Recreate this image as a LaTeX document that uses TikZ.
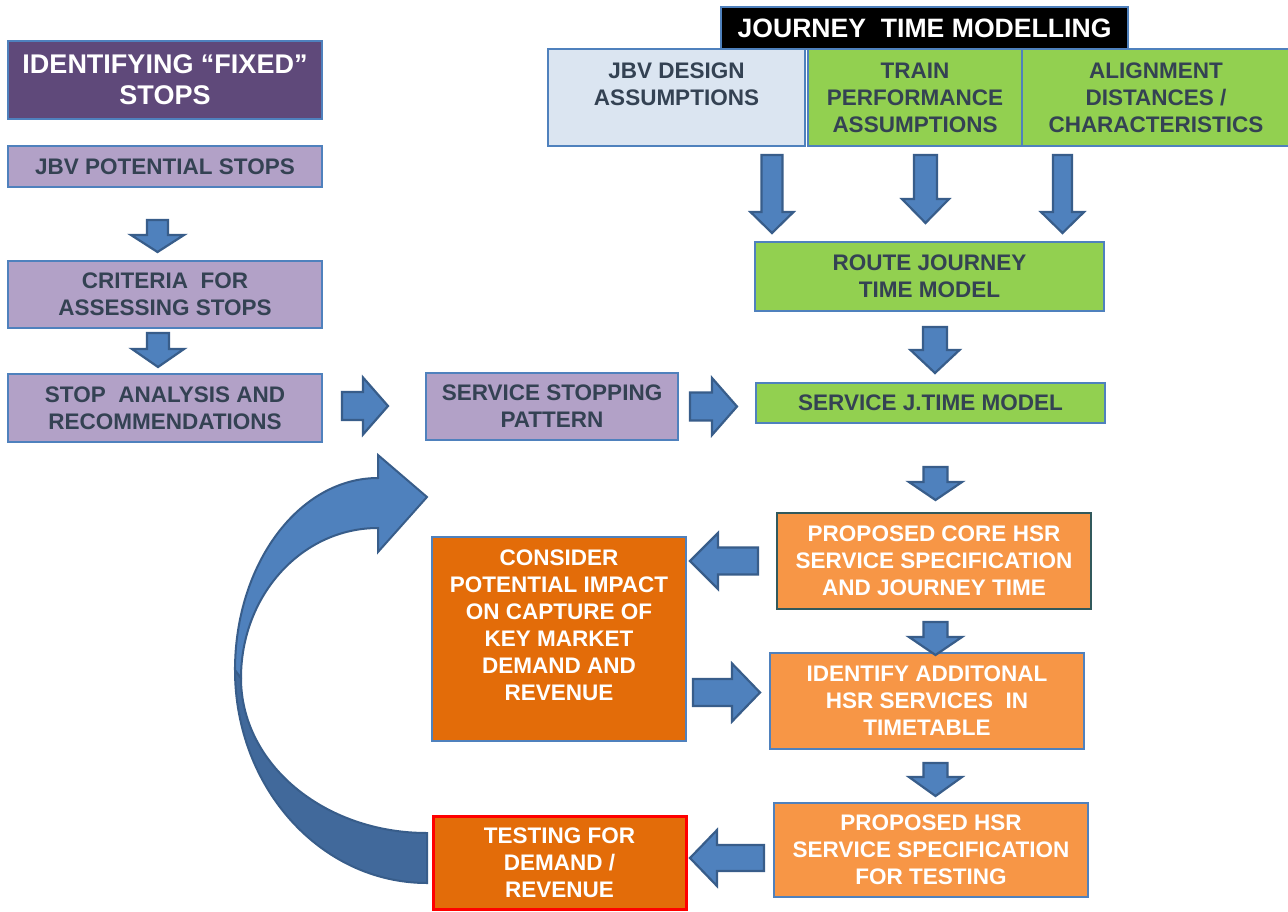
\documentclass[tikz,border=0pt]{standalone}
\usepackage{fontspec}
\setmainfont{Liberation Sans}
\definecolor{edgeblue}{HTML}{4F81BD}
\definecolor{arrfill}{HTML}{4F81BD}
\definecolor{arrline}{HTML}{385D8A}
\definecolor{darkband}{HTML}{41699B}
\definecolor{dpurple}{HTML}{5F497A}
\definecolor{lpurple}{HTML}{B2A1C7}
\definecolor{lgreen}{HTML}{92D050}
\definecolor{lblue}{HTML}{DBE5F1}
\definecolor{lorange}{HTML}{F79646}
\definecolor{dorange}{HTML}{E36C09}
\definecolor{txtdark}{HTML}{344253}
\definecolor{tealedge}{HTML}{31595C}
\tikzset{
  bx/.style={draw=edgeblue, line width=1.3pt, inner sep=0pt, align=center,
    font=\fontsize{22.5}{27}\selectfont\bfseries, text=txtdark},
  lightbx/.style={bx, text=white},
  blk/.style={fill=arrfill, draw=arrline, line width=2.2pt, line join=miter},
}
\newcommand{\varrow}[6]{%
  \draw[blk] ({#1-#5},#2) -- ({#1+#5},#2) -- ({#1+#5},#3) -- ({#1+#6},#3) -- (#1,#4) -- ({#1-#6},#3) -- ({#1-#5},#3) -- cycle;}
\newcommand{\harrow}[6]{%
  \draw[blk] (#2,{#1-#5}) -- (#3,{#1-#5}) -- (#3,{#1-#6}) -- (#4,#1) -- (#3,{#1+#6}) -- (#3,{#1+#5}) -- (#2,{#1+#5}) -- cycle;}
\begin{document}
\begin{tikzpicture}[x=1pt,y=-1pt]
\useasboundingbox (0,0) rectangle (1288,911);
\fill[white] (0,0) rectangle (1288,911);

% left column
\node[lightbx, fill=dpurple, minimum width=314pt, minimum height=78pt,
  font=\fontsize{27}{31}\selectfont\bfseries] (title) at (165,80) {IDENTIFYING “FIXED”\\STOPS};
\node[bx, fill=lpurple, minimum width=314pt, minimum height=41pt] (jbvpot) at (165,166.5) {JBV POTENTIAL STOPS};
\node[bx, fill=lpurple, minimum width=314pt, minimum height=67pt] (crit) at (165,294.5) {CRITERIA\ \ FOR\\ASSESSING STOPS};
\node[bx, fill=lpurple, minimum width=314pt, minimum height=68pt] (stop) at (165,408) {STOP\ \ ANALYSIS AND\\RECOMMENDATIONS};
\node[bx, fill=lpurple, minimum width=252pt, minimum height=67pt] (ssp) at (552,406.5) {SERVICE STOPPING\\PATTERN};

% top right
\node[bx, fill=lblue, minimum width=257pt, minimum height=97pt] (jbvd) at (676.5,97.5) {JBV DESIGN\\ASSUMPTIONS\\\mbox{}};
\node[bx, fill=lgreen, minimum width=214pt, minimum height=97pt] (train) at (915,97.5) {TRAIN\\PERFORMANCE\\ASSUMPTIONS};
\node[bx, fill=lgreen, minimum width=268pt, minimum height=97pt] (align) at (1156,97.5) {ALIGNMENT\\DISTANCES /\\CHARACTERISTICS};
\node[lightbx, fill=black, minimum width=407pt, minimum height=42pt,
  font=\fontsize{26.6}{30}\selectfont\bfseries] (jtm) at (924.5,28) {JOURNEY\ \ TIME MODELLING};
\node[bx, fill=lgreen, minimum width=349pt, minimum height=69pt] (rjt) at (929.5,276.5) {ROUTE JOURNEY\\TIME MODEL};
\node[bx, fill=lgreen, minimum width=349pt, minimum height=40pt] (sjt) at (930.5,403) {SERVICE J.TIME MODEL};

% orange boxes
\node[lightbx, fill=lorange, draw=tealedge, minimum width=314pt, minimum height=96pt] (pcore) at (934,561) {PROPOSED CORE HSR\\SERVICE SPECIFICATION\\AND JOURNEY TIME};
\node[lightbx, fill=dorange, minimum width=254pt, minimum height=204pt] (consider) at (559,639) {CONSIDER\\POTENTIAL IMPACT\\ON CAPTURE OF\\KEY MARKET\\DEMAND AND\\REVENUE\\\mbox{}};
\node[lightbx, fill=lorange, minimum width=314pt, minimum height=96pt] (ident) at (927,701) {IDENTIFY ADDITONAL\\HSR SERVICES\ \ IN\\TIMETABLE};
\node[lightbx, fill=lorange, minimum width=314pt, minimum height=94pt] (phsr) at (931,850) {PROPOSED HSR\\SERVICE SPECIFICATION\\FOR TESTING};
\node[lightbx, fill=dorange, draw=red, line width=3pt, minimum width=253pt, minimum height=93pt] (testing) at (559.5,862.5) {TESTING FOR\\DEMAND /\\REVENUE};

% block arrows
\varrow{157.5}{220}{235}{252}{10.5}{26.5}
\varrow{158}{333}{349}{367}{11}{26}
\harrow{406}{342}{363}{388}{14}{28.5}
\harrow{406.5}{690}{712}{737}{14}{28.5}
\varrow{772}{155}{212}{233}{10.5}{21.5}
\varrow{925.5}{155}{199}{223}{11.5}{23.5}
\varrow{1062.5}{155}{212}{233}{9.5}{21.5}
\varrow{935}{327}{350}{373}{12}{24.5}
\varrow{935.5}{467}{482}{500}{12}{26.5}
\varrow{935.5}{622}{637}{655}{12}{26.5}
\varrow{935.5}{763}{777}{796}{12}{26.5}
\harrow{561}{758}{718}{690}{13.5}{28}
\harrow{692.5}{693}{732}{760}{13.5}{29}
\harrow{858}{764}{717}{690}{13}{28}

% curved feedback arrow
\draw[fill=darkband, draw=arrline, line width=2pt]
  (427,833) .. controls (324,833) and (241,764) .. (241,678)
  -- (235,670) .. controls (235,788) and (321,883) .. (427,883) -- cycle;
\draw[fill=arrfill, draw=arrline, line width=2pt, line join=miter]
  (235,670) .. controls (235,564) and (299,478) .. (378,478)
  -- (378,455) -- (427,497) -- (378,552) -- (378,528)
  .. controls (302,528) and (241,595) .. (241,678) -- cycle;
\end{tikzpicture}
\end{document}
